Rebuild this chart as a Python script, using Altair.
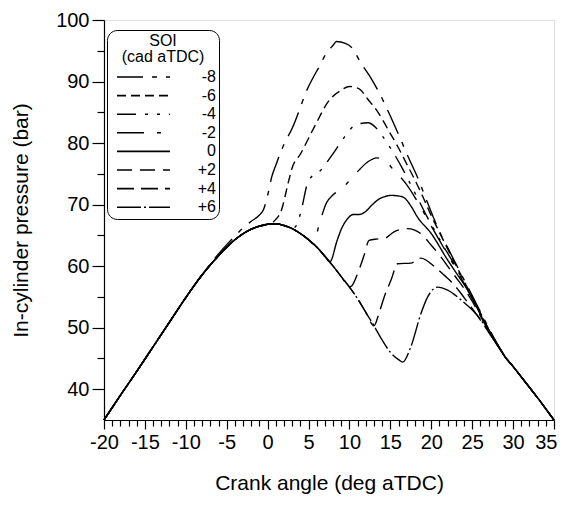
import altair as alt
import pandas as pd

FONT = "Liberation Sans"

# shared compression trace (motored part, all SOI cases coincide here)
crank_common = [-20, -18, -16, -14, -12, -10, -8, -6, -4, -2, 0, 1, 2, 3, 4, 5, 6, 7, 8, 9, 10, 11, 12, 13, 14, 15, 16, 16.5]
p_common = [35.0, 39.0, 42.9, 46.9, 50.9, 54.9, 58.6, 61.7, 64.3, 66.0, 66.8, 66.9, 66.6, 66.1, 65.3, 64.3, 63.1, 61.6, 60.0, 58.3, 56.6, 54.7, 52.5, 50.3, 48.0, 46.0, 44.8, 44.4]

# shared late-expansion trace
crank_tail = [29, 30, 31, 32, 33, 34, 35]
p_tail = [45.3, 43.7, 42.0, 40.3, 38.6, 36.8, 35.0]

soi_labels = ["-8", "-6", "-4", "-2", "0", "+2", "+4", "+6"]
soi_dash = [[26, 9, 5, 9], [9, 5], [19, 9, 3, 9, 3, 9], [27, 13, 4, 13], [1, 0], [15, 8], [17, 7], [24, 3, 2, 3]]

# branch point (leaves the shared compression trace) per SOI
branch = [-6, 0.5, 3.0, 5.6, 7.6, 10.3, 13.0, 17.0]

crank_m8 = [-6, -5, -4, -3, -2, -1, -0.5, 0, 0.5, 1, 2, 3, 4, 4.6, 5.5, 6.3, 7, 8, 8.4, 9.5, 10.3, 11.4, 12.7, 14.3, 15.2, 16.2, 17.2, 18.3, 19.4, 20.3, 21, 22, 23, 24, 25, 26, 27, 28]
p_m8 = [62.0, 63.5, 64.9, 66.2, 67.3, 68.3, 69.2, 71.5, 74.5, 76.4, 79.8, 82.4, 85.8, 88.0, 90.5, 92.4, 94.2, 95.9, 96.5, 96.2, 95.5, 93.0, 90.4, 86.4, 83.8, 80.8, 77.7, 74.5, 70.8, 67.8, 65.6, 63.0, 60.4, 57.8, 55.2, 52.6, 50.0, 47.5]

crank_m6 = [0.5, 1, 1.6, 2.6, 3.0, 4.0, 5.7, 7.5, 9.0, 10.0, 11.2, 12.2, 13.5, 14.8, 16.0, 17.0, 18.0, 19.0, 20.0, 21, 22, 23, 24, 25, 26, 27, 28]
p_m6 = [67.0, 67.6, 68.8, 74.0, 76.0, 78.2, 82.6, 86.9, 88.6, 89.2, 88.8, 87.2, 85.0, 82.0, 79.2, 76.6, 74.0, 71.2, 68.2, 65.5, 62.8, 60.2, 57.6, 55.0, 52.4, 49.8, 47.4]

crank_m4 = [3.0, 3.5, 4.0, 5.0, 6.5, 8.0, 9.4, 10.8, 12.3, 13.0, 14.1, 15.3, 16.5, 17.5, 18.5, 19.5, 20.5, 21.5, 22.5, 23.5, 24.5, 25.5, 26.5, 27.5, 28.5]
p_m4 = [66.1, 66.6, 68.5, 73.9, 75.6, 78.3, 81.0, 83.0, 83.3, 82.8, 81.0, 78.6, 75.8, 73.2, 70.6, 68.0, 65.6, 63.2, 61.0, 58.6, 56.1, 53.6, 51.0, 48.5, 46.4]

crank_m2 = [5.6, 6.3, 7.2, 8.0, 9.0, 10.0, 11.3, 12.3, 13.3, 14.3, 15.3, 16.9, 18.7, 20, 21, 22, 23, 24, 25, 26, 27, 28]
p_m2 = [63.6, 66.8, 70.3, 71.6, 72.5, 73.9, 75.8, 77.0, 77.6, 77.2, 75.8, 73.4, 69.6, 66.5, 64.2, 61.9, 59.6, 57.2, 54.8, 52.3, 49.7, 47.4]

crank_0 = [7.6, 8.5, 9.0, 9.7, 10.5, 11.2, 11.9, 12.8, 13.5, 14.3, 15.1, 16.0, 16.6, 17.5, 18.3, 20.0, 22.0, 23.0, 24.5, 26.5, 28.5]
p_0 = [60.7, 64.2, 66.0, 67.6, 68.4, 68.4, 68.8, 70.0, 70.8, 71.3, 71.5, 71.4, 71.2, 69.8, 68.0, 65.3, 61.0, 59.0, 56.0, 50.9, 46.4]

crank_p2 = [10.3, 11.0, 11.8, 12.4, 13.3, 14.25, 15.5, 17.1, 18.7, 20, 21, 22, 23, 24, 25, 26, 27, 28]
p_p2 = [56.8, 58.8, 61.8, 64.2, 64.4, 64.5, 65.6, 66.1, 65.3, 63.4, 61.8, 60.0, 58.2, 56.4, 54.3, 51.9, 49.5, 47.3]

crank_p4 = [13.0, 13.6, 14.25, 15.07, 15.9, 17.5, 18.74, 20.4, 21.6, 22.5, 23.5, 24.5, 25.5, 26.5, 27.5, 28.5]
p_p4 = [50.3, 52.3, 55.0, 57.7, 60.4, 60.5, 61.3, 59.9, 58.5, 57.4, 55.8, 54.0, 52.2, 50.3, 48.4, 46.3]

crank_p6 = [17.5, 18.74, 19.56, 20.8, 22.0, 23.65, 26.1, 27, 28]
p_p6 = [46.9, 52.3, 55.0, 56.6, 56.1, 54.5, 51.2, 49.3, 47.3]

own_x = [crank_m8, crank_m6, crank_m4, crank_m2, crank_0, crank_p2, crank_p4, crank_p6]
own_p = [p_m8, p_m6, p_m4, p_m2, p_0, p_p2, p_p4, p_p6]

rows = []
for lab, b, xs, ps in zip(soi_labels, branch, own_x, own_p):
    for x, p in zip(crank_common, p_common):
        if x < b:
            rows.append({"soi": lab, "ca": x, "p": p})
    for x, p in zip(xs, ps):
        rows.append({"soi": lab, "ca": x, "p": p})
    for x, p in zip(crank_tail, p_tail):
        if x > xs[-1]:
            rows.append({"soi": lab, "ca": x, "p": p})
df = pd.DataFrame(rows)

x_axis = alt.Axis(
    values=list(range(-20, 36)),
    labelExpr="datum.value % 5 === 0 ? '' + datum.value : ''",
    tickSize={"condition": {"test": "datum.value % 5 === 0", "value": 9}, "value": 6},
    labelAlign={"condition": {"test": "datum.value === 35", "value": "right"}, "value": "center"},
    labelOffset={"condition": {"test": "datum.value === 35", "value": 3}, "value": 0},
    labelOverlap=False, labelFlush=False, grid=False,
    domainColor="black", tickColor="black", labelColor="black", titleColor="black",
    labelFont=FONT, labelFontSize=20, labelPadding=3,
    titleFont=FONT, titleFontSize=21, titleFontWeight="normal", titlePadding=20,
    domainWidth=1.2, tickWidth=1.2,
)
y_axis = alt.Axis(
    values=list(range(40, 101, 5)),
    labelExpr="datum.value % 10 === 0 ? '' + datum.value : ''",
    tickSize={"condition": {"test": "datum.value % 10 === 0", "value": 12}, "value": 7},
    labelOverlap=False, labelFlush=False, grid=False,
    domainColor="black", tickColor="black", labelColor="black", titleColor="black",
    labelFont=FONT, labelFontSize=20, labelPadding=3,
    titleFont=FONT, titleFontSize=21, titleFontWeight="normal", titlePadding=24,
    domainWidth=1.2, tickWidth=1.2,
)

legend = alt.Legend(
    orient="none", legendX=3, legendY=10, direction="vertical", columns=1,
    title=["SOI", "(cad aTDC)"], titleAnchor="middle", titleFont=FONT, titleFontSize=16,
    titleFontWeight="normal", titleColor="black", titleLineHeight=16, titlePadding=4,
    labelFont=FONT, labelFontSize=16, labelColor="black", labelAlign="right",
    labelOffset=86, labelExpr="datum.label + '\u00a0\u00a0'",
    symbolType="M-1,0H9.6", symbolSize=100, symbolStrokeWidth=1.6,
    symbolStrokeColor="black", symbolOffset=4,
    strokeColor="black", cornerRadius=10, padding=3, rowPadding=2.6, fillColor="white",
)

chart = alt.Chart(df).mark_line(
    color="black", strokeWidth=1.4, interpolate="monotone"
).encode(
    x=alt.X("ca:Q", title="Crank angle (deg aTDC)",
            scale=alt.Scale(domain=[-20, 35], nice=False, zero=False), axis=x_axis),
    y=alt.Y("p:Q", title="In-cylinder pressure (bar)",
            scale=alt.Scale(domain=[35, 100], nice=False, zero=False), axis=y_axis),
    strokeDash=alt.StrokeDash("soi:N",
                              scale=alt.Scale(domain=soi_labels, range=soi_dash),
                              legend=legend),
    order="ca:Q",
).properties(
    width=450, height=400,
    autosize=alt.AutoSizeParams(type="none"),
    padding={"left": 96, "top": 12, "right": 3, "bottom": 79},
).configure_view(stroke=None).configure(background="white")

chart.save("out.html", embed_options={"renderer": "svg", "actions": False})
